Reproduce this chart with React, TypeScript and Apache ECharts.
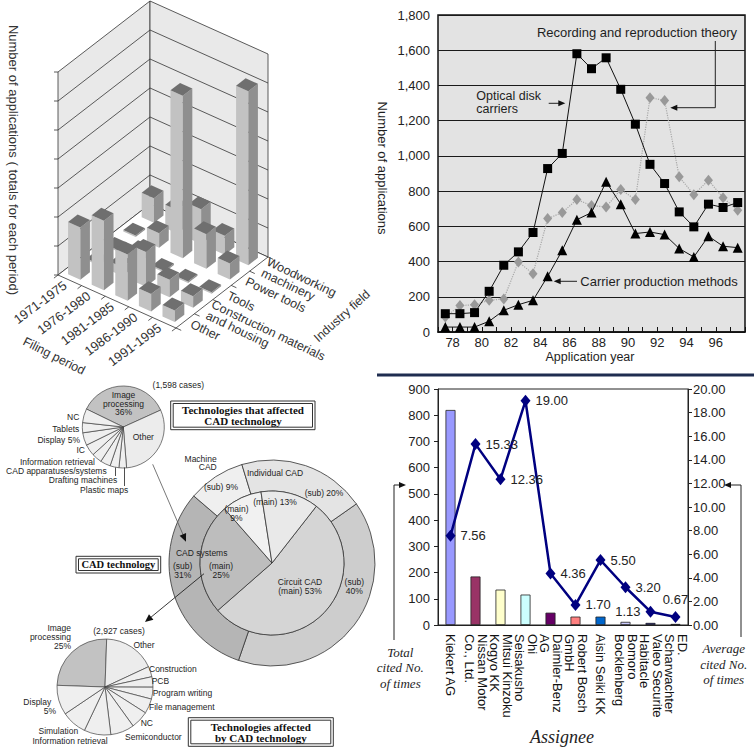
import React, { useEffect, useRef } from 'react';
import * as echarts from 'echarts';

// ---------------- Panel 1: 3D bar chart (top-left) ----------------
const FILING_PERIODS = ['1971-1975', '1976-1980', '1981-1985', '1986-1990', '1991-1995'];
const INDUSTRY_FIELDS = ['Other', 'Construction materials\nand housing', 'Tools', 'Power tools', 'Woodworking\nmachinery'];
// rows: filing period, columns: industry field (Other -> Woodworking machinery)
const APPLICATIONS_1971_1975 = [18, 0.5, 0.5, 0.5, 8.5];
const APPLICATIONS_1976_1980 = [24, 3, 3, 5, 8];
const APPLICATIONS_1981_1985 = [16, 12, 0.5, 56, 12];
const APPLICATIONS_1986_1990 = [6, 6, 0.5, 12, 6.5];
const APPLICATIONS_1991_1995 = [4, 4, 0.5, 5.5, 60];
const APPLICATIONS_BY_PERIOD = [APPLICATIONS_1971_1975, APPLICATIONS_1976_1980, APPLICATIONS_1981_1985, APPLICATIONS_1986_1990, APPLICATIONS_1991_1995];
const VERTICAL_MAX = 70;
const VERTICAL_STEP = 10;

// ---------------- Panel 2: line chart (top-right) ----------------
const APPLICATION_YEARS = ['77', '78', '79', '80', '81', '82', '83', '84', '85', '86', '87', '88', '89', '90', '91', '92', '93', '94', '95', '96', '97'];
const OPTICAL_DISK_CARRIERS = [104, 104, 110, 231, 379, 455, 565, 928, 1014, 1580, 1495, 1557, 1378, 1180, 952, 843, 682, 597, 726, 707, 735];
const RECORDING_REPRODUCTION_THEORY = [85, 150, 155, 180, 188, 398, 331, 644, 678, 752, 718, 710, 809, 752, 1330, 1315, 881, 780, 862, 762, 691];
const CARRIER_PRODUCTION_METHODS = [28, 28, 28, 61, 123, 155, 180, 316, 464, 638, 678, 853, 726, 559, 568, 553, 474, 426, 544, 487, 479];

// ---------------- Panel 3: pies (bottom-left) ----------------
const AFFECTING_NAMES = ['Image processing', 'Other', 'Plastic maps', 'Drafting machines', 'CAD apparatuses/systems', 'Information retrieval', 'IC', 'Display', 'Tablets', 'NC'];
const AFFECTING_SHARES = [36, 30.5, 3, 3.5, 4, 4, 4.5, 5, 4, 5.5];
const CAD_NAMES = ['Circuit CAD', 'CAD systems', 'Machine CAD', 'Individual CAD'];
const CAD_MAIN_SHARES = [53, 25, 9, 13];
const CAD_SUB_SHARES = [40, 31, 9, 20];
const AFFECTED_NAMES = ['Image processing', 'Other', 'Construction', 'PCB', 'Program writing', 'File management', 'NC', 'Semiconductor', 'Information retrieval', 'Simulation', 'Display'];
const AFFECTED_SHARES = [25, 17.5, 3.5, 3.5, 4, 5, 6, 8, 9, 8.5, 10];

// ---------------- Panel 4: bar + line (bottom-right) ----------------
const ASSIGNEES = ['Kiekert AG', 'Nissan Motor\nCo., Ltd.', 'Mitsui Kinzoku\nKogyo KK', 'Ohi\nSeisakusho', 'Daimler-Benz\nAG', 'Robert Bosch\nGmbH', 'Aisin Seiki KK', 'Bomoro\nBocklenberg', 'Valeo Securite\nHabitacle', 'ED.\nScharwachter'];
const TOTAL_CITED = [820, 185, 135, 116, 47, 32, 32, 12, 8, 4];
const AVERAGE_CITED = [7.56, 15.33, 12.36, 19.0, 4.36, 1.7, 5.5, 3.2, 1.13, 0.67];

// styles
const SANS = "'Liberation Sans', Arial, sans-serif";
const SERIF = "'Liberation Serif', 'Times New Roman', serif";
const ASSIGNEE_COLORS = ['#9999ff', '#993366', '#ffffcc', '#ccffff', '#660066', '#ff8080', '#0066cc', '#ccccff', '#000080', '#111111'];
const AVERAGE_LABEL_SIDE = ['right', 'right', 'right', 'right', 'right', 'right', 'right', 'right', 'left', 'top'];
const AFFECTING_COLORS = ['#c2c2c2', '#ececec', '#efefef', '#efefef', '#efefef', '#efefef', '#efefef', '#efefef', '#efefef', '#efefef'];
const CAD_MAIN_COLORS = ['#d5d5d5', '#bdbdbd', '#f1f1f1', '#e9e9e9'];
const CAD_SUB_COLORS = ['#cdcdcd', '#b5b5b5', '#efefef', '#e4e4e4'];
const AFFECTED_COLORS = ['#c2c2c2', '#ececec', '#efefef', '#efefef', '#efefef', '#efefef', '#efefef', '#efefef', '#efefef', '#efefef', '#efefef'];
const PIE_FONT = 8.5;

// oblique projection for the 3D panel
const O3 = [58, 275];
const PV = [23.6, 10.6];
const QV = [18.4, -14.2];
const HPX = 2.9;
const proj = (i: number, j: number, h: number) => [O3[0] + PV[0] * i + QV[0] * j, O3[1] + PV[1] * i + QV[1] * j - HPX * h];

const T = (x: number, y: number, s: string, o: any = {}) => {
  const size = o.size ?? PIE_FONT;
  const lh = Math.max(o.lh ?? Math.round(size * 1.15), size);
  return {
    type: 'text', x, y, rotation: o.rot ? (o.rot * Math.PI) / 180 : 0, z: o.z ?? 30, silent: true,
    style: {
      text: s, fill: o.color ?? '#1e1e1e', fontSize: size, fontFamily: o.family ?? SANS,
      fontWeight: o.weight ?? 'normal', fontStyle: o.italic ? 'italic' : 'normal',
      align: o.align ?? 'center', verticalAlign: o.va ?? 'middle',
      textAlign: o.align ?? 'center', textVerticalAlign: o.va ?? 'middle',
      lineHeight: lh,
    },
  };
};
const L = (pts: number[][], o: any = {}) => ({
  type: 'polyline', z: o.z ?? 30, silent: true, shape: { points: pts },
  style: { stroke: o.color ?? '#222', lineWidth: o.w ?? 1, fill: null, lineDash: o.dash ?? null },
});
const HEAD = (tip: number[], from: number[], o: any = {}) => {
  const len = o.len ?? 7, half = o.half ?? 3;
  const dx = tip[0] - from[0], dy = tip[1] - from[1];
  const d = Math.hypot(dx, dy), ux = dx / d, uy = dy / d;
  const bx = tip[0] - ux * len, by = tip[1] - uy * len;
  return { type: 'polygon', z: o.z ?? 30, silent: true, shape: { points: [tip, [bx - uy * half, by + ux * half], [bx + uy * half, by - ux * half]] }, style: { fill: o.color ?? '#111' } };
};
const BOX = (x: number, y: number, w: number, h: number) => [
  { type: 'rect', z: 25, silent: true, shape: { x, y, width: w, height: h }, style: { fill: '#fff', stroke: '#333', lineWidth: 1 } },
  { type: 'rect', z: 26, silent: true, shape: { x: x + 2.5, y: y + 2.5, width: w - 5, height: h - 5 }, style: { fill: 'none', stroke: '#333', lineWidth: 1 } },
];

function build3DFrame() {
  const nP = FILING_PERIODS.length, nI = INDUSTRY_FIELDS.length;
  const els: any[] = [];
  const poly = (pts: number[][], fill: string) => ({ type: 'polygon', z: 0, silent: true, shape: { points: pts }, style: { fill, stroke: '#333', lineWidth: 0.8 } });
  els.push(poly([proj(0, 0, 0), proj(0, nI, 0), proj(0, nI, VERTICAL_MAX), proj(0, 0, VERTICAL_MAX)], '#e9e9e9'));
  els.push(poly([proj(0, nI, 0), proj(nP, nI, 0), proj(nP, nI, VERTICAL_MAX), proj(0, nI, VERTICAL_MAX)], '#e9e9e9'));
  els.push(poly([proj(0, 0, 0), proj(nP, 0, 0), proj(nP, nI, 0), proj(0, nI, 0)], '#ffffff'));
  for (let h = VERTICAL_STEP; h < VERTICAL_MAX; h += VERTICAL_STEP) {
    els.push(L([proj(0, 0, h), proj(0, nI, h), proj(nP, nI, h)], { z: 1, w: 0.8, color: '#333' }));
  }
  for (let h = 0; h <= VERTICAL_MAX; h += VERTICAL_STEP) {
    const p = proj(0, 0, h);
    els.push(L([[p[0] - 4, p[1]], p], { z: 1, w: 0.8, color: '#333' }));
  }
  for (let i = 0; i <= nP; i++) els.push(L([proj(i, 0, 0), proj(i, -0.22, 0)], { z: 1, w: 0.8, color: '#333' }));
  for (let j = 0; j <= nI; j++) els.push(L([proj(nP, j, 0), proj(nP + 0.22, j, 0)], { z: 1, w: 0.8, color: '#333' }));
  FILING_PERIODS.forEach((name, i) => {
    const p = proj(i + 0.5, -0.25, 0);
    els.push(T(p[0], p[1], name, { size: 13, align: 'right', rot: 36.5, color: '#333' }));
  });
  INDUSTRY_FIELDS.forEach((name, j) => {
    const p = proj(nP + 0.25, j + 0.5, 0);
    els.push(T(p[0], p[1], name, { size: 12.5, align: 'left', rot: -25.5, color: '#333', lh: 12.5 }));
  });
  els.push(T(54, 356, 'Filing period', { size: 12.5, rot: -27, color: '#333' }));
  els.push(T(342, 316, 'Industry field', { size: 12.5, rot: 42, color: '#333' }));
  els.push(T(13, 160, 'Number of applications ( totals for each period)', { size: 13, rot: -90, color: '#333' }));
  return els;
}

function buildOption() {
  const bars3D: number[][] = [];
  APPLICATIONS_BY_PERIOD.forEach((row, i) => row.forEach((v, j) => bars3D.push([i, j, v])));
  bars3D.sort((a, b) => (a[0] - a[1]) - (b[0] - b[1]));

  const pieBase = { type: 'pie', silent: true, clockwise: true, avoidLabelOverlap: false, label: { show: false }, labelLine: { show: false }, emphasis: { disabled: true } };

  const graphic: any[] = [
    ...build3DFrame(),
    // separator
    { type: 'rect', z: 5, silent: true, shape: { x: 377, y: 373.5, width: 377, height: 3 }, style: { fill: '#1f2d50' } },
    // line chart annotations
    T(637, 32.5, 'Recording and reproduction theory', { size: 13 }),
    L([[715.3, 41], [715.3, 107.7], [677, 107.7]]),
    HEAD([670.3, 107.7], [715.3, 107.7]),
    T(476.3, 102.5, 'Optical disk\ncarriers', { size: 12.5, align: 'left', lh: 12.5 }),
    L([[548.7, 103.3], [559, 103.3]]),
    HEAD([565.3, 103.3], [548.7, 103.3]),
    T(580.3, 281.7, 'Carrier production methods', { size: 13, align: 'left' }),
    L([[577, 281.3], [560, 281.3]]),
    HEAD([553.7, 281.3], [577, 281.3]),
    T(382, 168, 'Number of applications', { size: 13, rot: -90 }),
    T(590, 357, 'Application year', { size: 12.5 }),
    // top small pie labels
    T(178.3, 385.3, '(1,598 cases)'),
    T(123.5, 403.7, 'Image\nprocessing\n36%', { lh: 8.5 }),
    T(143.3, 437, 'Other'),
    T(79.3, 417, 'NC', { align: 'right' }),
    T(79.3, 428.7, 'Tablets', { align: 'right' }),
    T(80, 440.3, 'Display 5%', { align: 'right' }),
    T(85, 450.3, 'IC', { align: 'right' }),
    T(95, 462, 'Information retrieval', { align: 'right' }),
    T(106.7, 471.3, 'CAD apparatuses/systems', { align: 'right' }),
    T(117.3, 480.3, 'Drafting machines', { align: 'right' }),
    T(128.3, 490.3, 'Plastic maps', { align: 'right' }),
    L([[115.5, 467.5], [115.5, 476]], { w: 0.8 }),
    L([[124.5, 467.5], [124.5, 486]], { w: 0.8 }),
    ...BOX(170.7, 401, 144.3, 28.7),
    T(243, 415.3, 'Technologies that affected\nCAD technology', { family: SERIF, weight: 'bold', size: 11, lh: 11, z: 27, color: '#111' }),
    // donut labels
    T(216.7, 463.2, 'Machine\nCAD', { align: 'right', lh: 8.5 }),
    T(275, 473.3, 'Individual CAD'),
    T(221, 486.7, '(sub) 9%'),
    T(324, 492.7, '(sub) 20%'),
    T(236.5, 513.3, '(main)\n9%', { lh: 8.5 }),
    T(275, 501.7, '(main) 13%'),
    T(201.7, 553.3, 'CAD systems'),
    T(182.7, 570.5, '(sub)\n31%', { lh: 8.5 }),
    T(221, 570.5, '(main)\n25%', { lh: 8.5 }),
    T(300, 586.7, 'Circuit CAD\n(main) 53%', { lh: 8.5 }),
    T(354.3, 586.7, '(sub)\n40%', { lh: 8.5 }),
    ...BOX(76, 556.3, 84.7, 16.7),
    T(118.3, 564.7, 'CAD technology', { family: SERIF, weight: 'bold', size: 10.5, z: 27, color: '#111' }),
    L([[152.7, 464.3], [183.2, 535]], { w: 0.8, color: '#555' }),
    HEAD([186, 541.7], [152.7, 464.3], { len: 8, half: 3.5 }),
    L([[204, 573.7], [150, 618]], { w: 0.9 }),
    HEAD([145, 622], [204, 573.7], { len: 8, half: 3.5 }),
    // bottom pie labels
    T(71, 636.7, 'Image\nprocessing\n25%', { align: 'right', lh: 9 }),
    T(119, 631, '(2,927 cases)'),
    T(144, 644.7, 'Other'),
    T(149, 669.3, 'Construction', { align: 'left' }),
    T(151.7, 681, 'PCB', { align: 'left' }),
    T(152.7, 692.7, 'Program writing', { align: 'left' }),
    T(149, 707, 'File management', { align: 'left' }),
    T(140.7, 722.7, 'NC', { align: 'left' }),
    T(125, 737, 'Semiconductor', { align: 'left' }),
    T(37.3, 702, 'Display'),
    T(50, 711, '5%'),
    T(58.3, 731.3, 'Simulation'),
    T(70, 741.3, 'Information retrieval'),
    ...BOX(188.3, 717.7, 145, 28.6),
    T(260.8, 732.2, 'Technologies affected\nby CAD technology', { family: SERIF, weight: 'bold', size: 11, lh: 11, z: 27, color: '#111' }),
    // bottom-right annotations
    T(400.3, 667.7, 'Total\ncited No.\nof times', { family: SERIF, italic: true, size: 13, lh: 15.5 }),
    T(723.7, 664.3, 'Average\ncited No.\nof times', { family: SERIF, italic: true, size: 13, lh: 15.5 }),
    T(562, 737, 'Assignee', { family: SERIF, italic: true, size: 18 }),
    L([[394, 640], [394, 485], [399, 485]]),
    HEAD([406, 485], [394, 485]),
    L([[741, 637], [741, 485], [731, 485]]),
    HEAD([724, 485], [741, 485]),
  ];

  return {
    animation: false,
    backgroundColor: '#ffffff',
    textStyle: { fontFamily: SANS },
    grid: [
      { left: 438, top: 15, width: 307, height: 317, show: true, backgroundColor: '#e3e3e3', borderColor: '#111', borderWidth: 1.5 },
      { left: 438, top: 389, width: 250, height: 236, show: true, backgroundColor: '#ffffff', borderColor: '#222', borderWidth: 1 },
    ],
    xAxis: [
      { gridIndex: 0, type: 'category', position: 'top', data: APPLICATION_YEARS, boundaryGap: true, axisLine: { show: false }, axisTick: { show: false }, axisLabel: { show: false }, splitLine: { show: false } },
      {
        gridIndex: 0, type: 'value', position: 'bottom', min: 77, max: 98, interval: 1,
        axisLine: { show: true, lineStyle: { color: '#111', width: 1.5 } },
        axisTick: { show: true, inside: true, length: 5, lineStyle: { color: '#111' } },
        axisLabel: { formatter: (v: number) => (v % 2 === 0 && v >= 78 && v <= 96 ? String(v) : ''), fontSize: 13, color: '#222', margin: 4, fontFamily: SANS },
        splitLine: { show: false },
      },
      {
        gridIndex: 1, type: 'category', data: ASSIGNEES, boundaryGap: true,
        axisLine: { show: true, lineStyle: { color: '#222' } }, axisTick: { show: false },
        axisLabel: { interval: 0, rotate: -90, fontSize: 13, lineHeight: 13, color: '#111', margin: 9, fontFamily: SANS },
      },
    ],
    yAxis: [
      {
        gridIndex: 0, type: 'value', min: 0, max: 1800, interval: 200,
        axisLine: { show: false }, axisTick: { show: false },
        axisLabel: { formatter: (v: number) => v.toLocaleString('en-US'), fontSize: 13, color: '#222', margin: 8, fontFamily: SANS },
        splitLine: { show: true, lineStyle: { color: '#1a1a1a', width: 1 } },
      },
      {
        gridIndex: 1, type: 'value', position: 'left', min: 0, max: 900, interval: 100,
        axisLine: { show: true, lineStyle: { color: '#222' } }, axisTick: { show: true, length: 4 },
        axisLabel: { fontSize: 13, color: '#222', margin: 8, fontFamily: SANS }, splitLine: { show: false },
      },
      {
        gridIndex: 1, type: 'value', position: 'right', min: 0, max: 20, interval: 2,
        axisLine: { show: true, lineStyle: { color: '#222' } }, axisTick: { show: true, length: 4 },
        axisLabel: { formatter: (v: number) => v.toFixed(2), fontSize: 13, color: '#222', margin: 5, fontFamily: SANS }, splitLine: { show: false },
      },
    ],
    series: [
      {
        type: 'custom', coordinateSystem: 'none', silent: true, z: 2, data: bars3D,
        renderItem: (_p: any, api: any) => {
          const i = api.value(0), j = api.value(1), v = api.value(2);
          const w = 0.52;
          const i0 = i + 0.5 - w / 2, i1 = i0 + w, j0 = j + 0.5 - w / 2, j1 = j0 + w;
          const left = [proj(i0, j0, 0), proj(i1, j0, 0), proj(i1, j0, v), proj(i0, j0, v)];
          const right = [proj(i1, j0, 0), proj(i1, j1, 0), proj(i1, j1, v), proj(i1, j0, v)];
          const top = [proj(i0, j0, v), proj(i1, j0, v), proj(i1, j1, v), proj(i0, j1, v)];
          return {
            type: 'group',
            children: [
              { type: 'polygon', shape: { points: left }, style: { fill: '#c2c2c2' } },
              { type: 'polygon', shape: { points: right }, style: { fill: '#8f8f8f' } },
              { type: 'polygon', shape: { points: top }, style: { fill: '#6f6f6f' } },
            ],
          };
        },
      },
      {
        name: 'Recording and reproduction theory', type: 'line', xAxisIndex: 0, yAxisIndex: 0, data: RECORDING_REPRODUCTION_THEORY,
        showSymbol: true, showAllSymbol: true, z: 3,
        symbol: 'diamond', symbolSize: [9, 11], itemStyle: { color: '#999999' }, lineStyle: { color: '#a8a8a8', width: 1.2, type: 'dotted' },
      },
      {
        name: 'Carrier production methods', type: 'line', xAxisIndex: 0, yAxisIndex: 0, data: CARRIER_PRODUCTION_METHODS,
        showSymbol: true, showAllSymbol: true, z: 4,
        symbol: 'triangle', symbolSize: 10, itemStyle: { color: '#000' }, lineStyle: { color: '#111', width: 1 },
      },
      {
        name: 'Optical disk carriers', type: 'line', xAxisIndex: 0, yAxisIndex: 0, data: OPTICAL_DISK_CARRIERS,
        showSymbol: true, showAllSymbol: true, z: 5,
        symbol: 'rect', symbolSize: 9, itemStyle: { color: '#000' }, lineStyle: { color: '#111', width: 1 },
      },
      {
        name: 'Total cited No. of times', type: 'bar', xAxisIndex: 2, yAxisIndex: 1, barWidth: 10,
        data: TOTAL_CITED.map((v, k) => ({ value: v, itemStyle: { color: ASSIGNEE_COLORS[k] } })),
        itemStyle: { borderColor: '#222', borderWidth: 0.8 },
      },
      {
        name: 'Average cited No. of times', type: 'line', xAxisIndex: 2, yAxisIndex: 2, showAllSymbol: true,
        data: AVERAGE_CITED.map((v, k) => ({ value: v, label: { position: AVERAGE_LABEL_SIDE[k] } })),
        symbol: 'diamond', symbolSize: [10, 12], itemStyle: { color: '#000080' }, lineStyle: { color: '#000080', width: 2.5 },
        label: { show: true, formatter: (p: any) => Number(p.value).toFixed(2), fontSize: 13, fontFamily: SANS, color: '#222', distance: 5 },
      },
      {
        ...pieBase, name: 'Technologies that affected CAD technology', center: [123.3, 427], radius: [0, 41], startAngle: 154,
        itemStyle: { borderColor: '#444', borderWidth: 0.7 },
        data: AFFECTING_NAMES.map((n, k) => ({ name: n, value: AFFECTING_SHARES[k], itemStyle: { color: AFFECTING_COLORS[k] } })),
      },
      {
        ...pieBase, name: 'CAD technology (sub)', center: [272, 563], radius: [72, 103], startAngle: 35,
        itemStyle: { borderColor: '#333', borderWidth: 0.8 },
        data: CAD_NAMES.map((n, k) => ({ name: n, value: CAD_SUB_SHARES[k], itemStyle: { color: CAD_SUB_COLORS[k] } })),
      },
      {
        ...pieBase, name: 'CAD technology (main)', center: [272, 563], radius: [0, 72], startAngle: 52,
        itemStyle: { borderColor: '#333', borderWidth: 0.8 },
        data: CAD_NAMES.map((n, k) => ({ name: n, value: CAD_MAIN_SHARES[k], itemStyle: { color: CAD_MAIN_COLORS[k] } })),
      },
      {
        ...pieBase, name: 'Technologies affected by CAD technology', center: [105, 687], radius: [0, 48], startAngle: 178,
        itemStyle: { borderColor: '#444', borderWidth: 0.7 },
        data: AFFECTED_NAMES.map((n, k) => ({ name: n, value: AFFECTED_SHARES[k], itemStyle: { color: AFFECTED_COLORS[k] } })),
      },
    ],
    graphic: { elements: graphic },
  };
}

export default function App() {
  const ref = useRef<HTMLDivElement>(null);
  useEffect(() => {
    if (!ref.current) return;
    const chart = echarts.init(ref.current, null, { renderer: 'svg' });
    chart.setOption(buildOption() as any);
    return () => chart.dispose();
  }, []);
  return <div ref={ref} style={{ position: 'absolute', left: 0, top: 0, width: 754, height: 754, background: '#fff' }} />;
}
